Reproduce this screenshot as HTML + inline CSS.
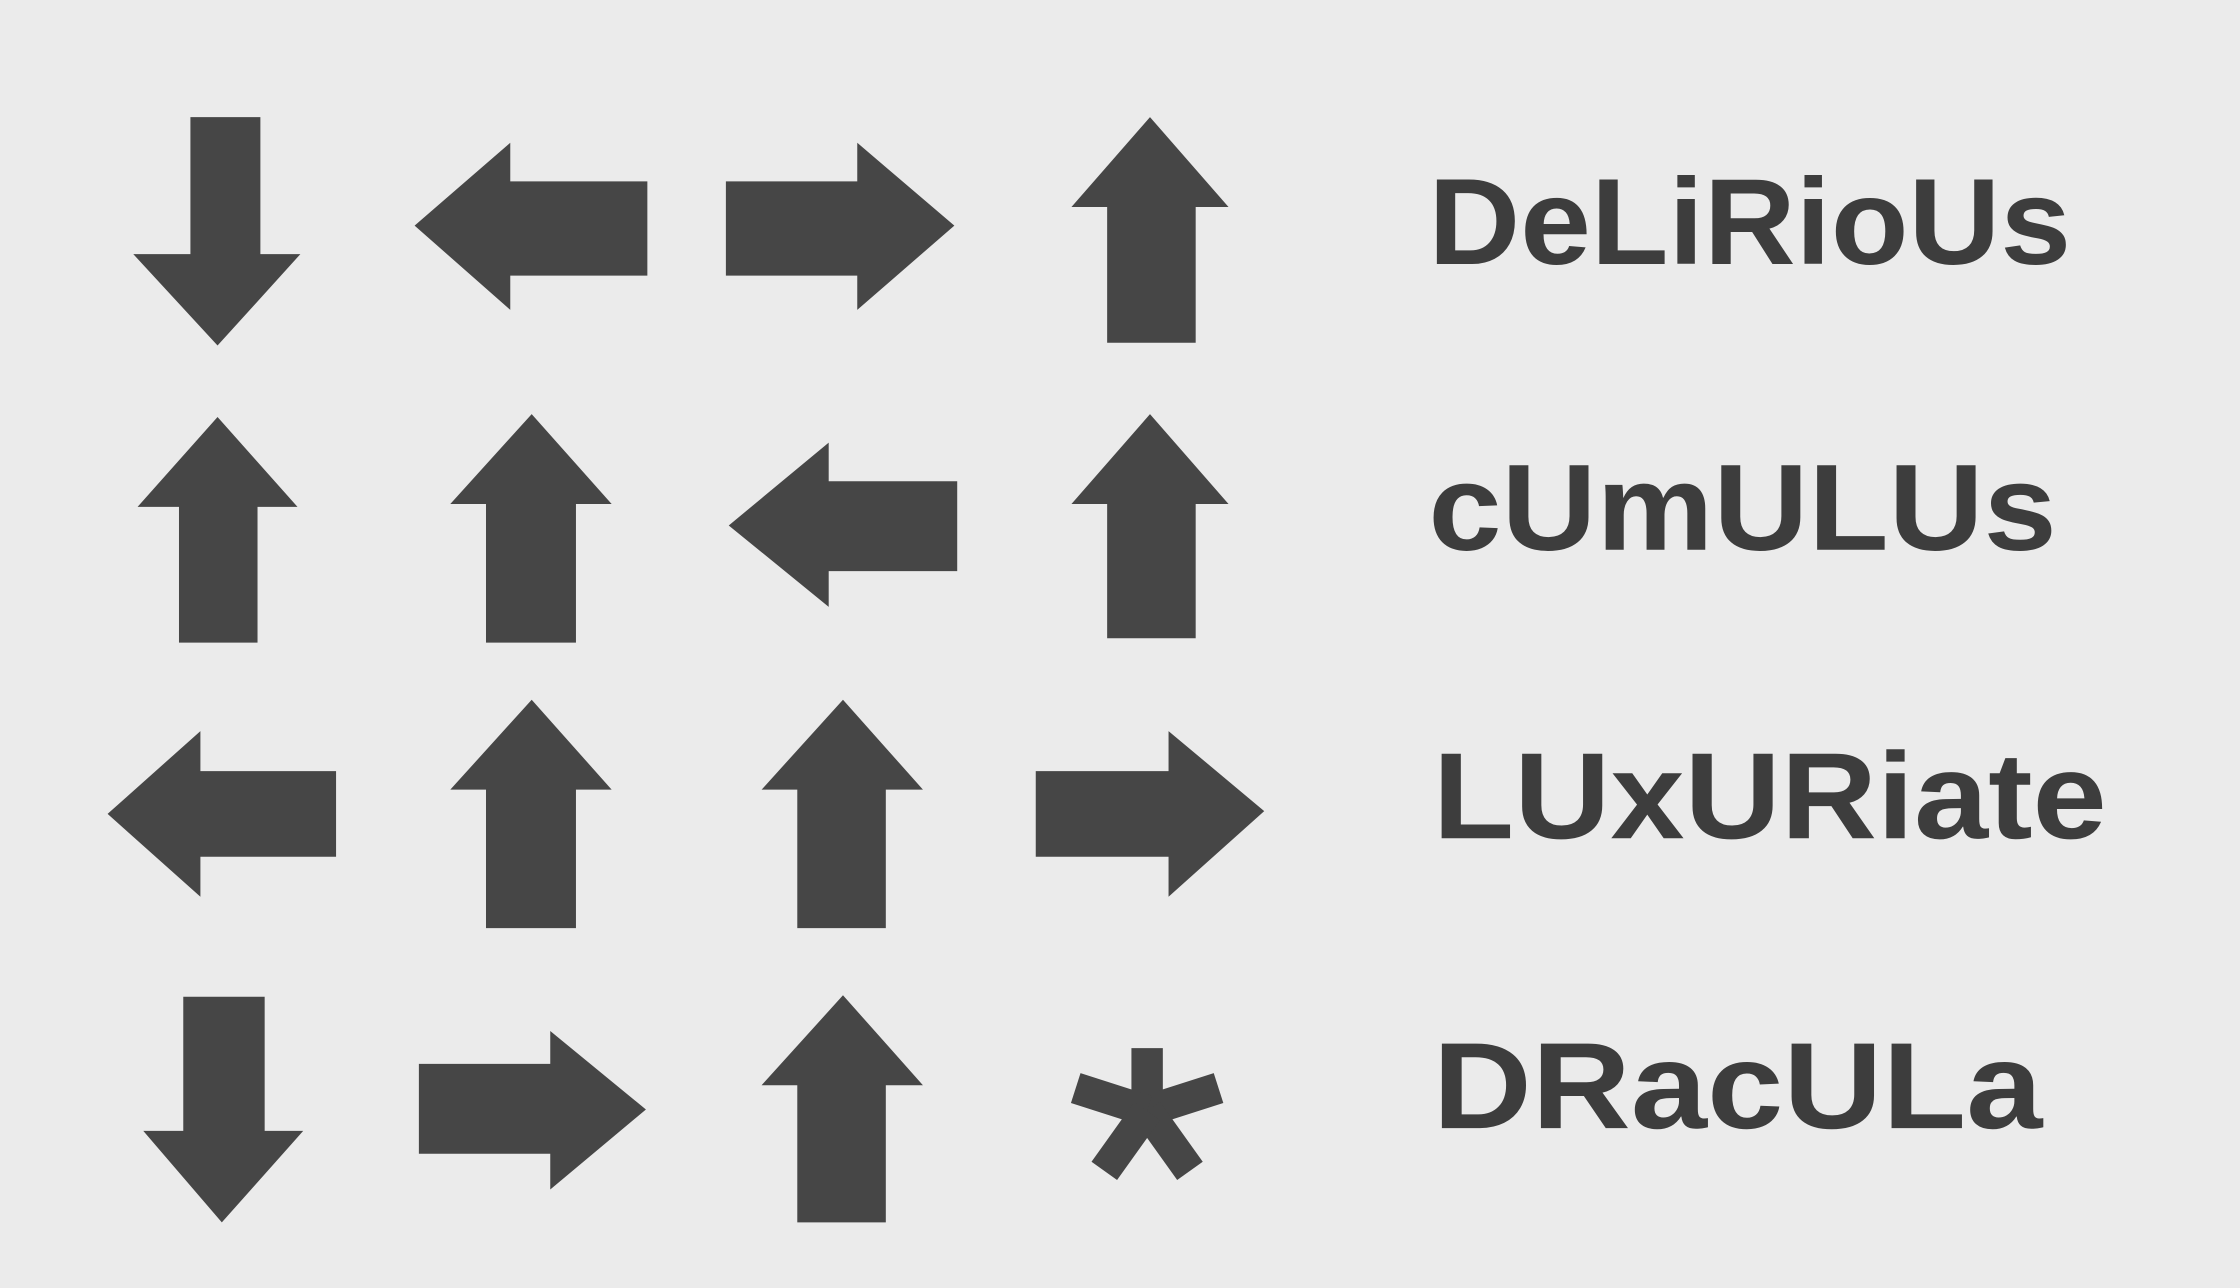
<!DOCTYPE html>
<html><head><meta charset="utf-8"><style>
html,body{margin:0;padding:0;background:#ebebeb;}
svg{display:block;}
</style></head><body>
<svg width="2240" height="1288" viewBox="0 0 1568 902" xmlns="http://www.w3.org/2000/svg">
<rect width="1568" height="902" fill="#ebebeb"/>
<g fill="#464646">
<polygon points="133,82 182,82 182,178 210,178 152,242 93,178 133,178"/>
<polygon points="290,158 357,100 357,127 453,127 453,193 357,193 357,217"/>
<polygon points="508,127 600,127 600,100 668,158 600,217 600,193 508,193"/>
<polygon points="805,82 860,145 837,145 837,240 775,240 775,145 750,145"/>
<polygon points="152,292 208,355 180,355 180,450 125,450 125,355 96,355"/>
<polygon points="372,290 428,353 403,353 403,450 340,450 340,353 315,353"/>
<polygon points="510,368 580,310 580,337 670,337 670,400 580,400 580,425"/>
<polygon points="805,290 860,353 837,353 837,447 775,447 775,353 750,353"/>
<polygon points="75,570 140,512 140,540 235,540 235,600 140,600 140,628"/>
<polygon points="372,490 428,553 403,553 403,650 340,650 340,553 315,553"/>
<polygon points="590,490 646,553 620,553 620,650 558,650 558,553 533,553"/>
<polygon points="725,540 818,540 818,512 885,568 818,628 818,600 725,600"/>
<polygon points="128,698 185,698 185,792 212,792 155,856 100,792 128,792"/>
<polygon points="293,745 385,745 385,722 452,777 385,833 385,808 293,808"/>
<polygon points="590,697 646,760 620,760 620,856 558,856 558,760 533,760"/>
</g>
<g stroke="#464646" stroke-width="22" stroke-linecap="butt">
<line x1="803" y1="778" x2="803" y2="734"/>
<line x1="803" y1="778" x2="853" y2="762"/>
<line x1="803" y1="778" x2="753" y2="762"/>
<line x1="803" y1="778" x2="833" y2="820"/>
<line x1="803" y1="778" x2="773" y2="820"/>
</g>
<g font-family="Liberation Sans, sans-serif" font-weight="bold" font-size="86" fill="#3d3d3d">
<text x="1000" y="185" textLength="450" lengthAdjust="spacingAndGlyphs">DeLiRioUs</text>
<text x="1000" y="385" textLength="440" lengthAdjust="spacingAndGlyphs">cUmULUs</text>
<text x="1003" y="587" textLength="472" lengthAdjust="spacingAndGlyphs">LUxURiate</text>
<text x="1003" y="790" textLength="427" lengthAdjust="spacingAndGlyphs">DRacULa</text>
</g>
</svg>
</body></html>
